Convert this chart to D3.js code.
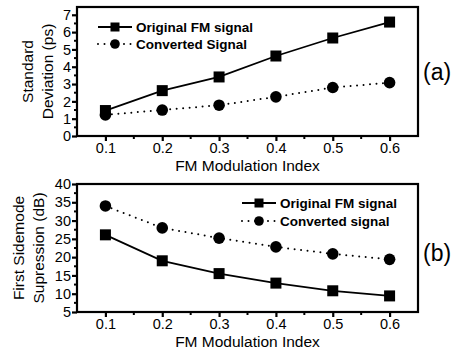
<!DOCTYPE html>
<meta charset="utf-8">
<title>FM modulation</title>
<style>
body { margin: 0; background: #fff; }
svg { font-family: "Liberation Sans", Arial, sans-serif; }
.axis path, .axis line { stroke: #000; stroke-width: 2.2; fill: none; }
.axis text { font-size: 14.5px; fill: #000; }
.frame { fill: none; stroke: #000; stroke-width: 2.2; }
.legend text { font-size: 13.5px; font-weight: bold; }
.title { font-size: 15.5px; }
.ytitle { font-size: 15.5px; }
.panel-label { font-size: 23px; }
</style>
<body>
<script src="https://d3js.org/d3.v7.min.js"></script>
<script>

var index = [0.1, 0.2, 0.3, 0.4, 0.5, 0.6];
var stdOriginal = [1.47, 2.62, 3.41, 4.62, 5.66, 6.58];
var stdConverted = [1.22, 1.5, 1.78, 2.26, 2.8, 3.08];
var supOriginal = [26.1, 19.0, 15.5, 12.9, 10.8, 9.4];
var supConverted = [34.0, 28.0, 25.2, 22.8, 20.9, 19.4];
var stdTicks = [0, 1, 2, 3, 4, 5, 6, 7];
var supTicks = [5, 10, 15, 20, 25, 30, 35, 40];
var xTicks = [0.1, 0.2, 0.3, 0.4, 0.5, 0.6];

var W = 464, H = 350;
var left = 77, right = 418;

var svg = d3.select("body").append("svg")
    .attr("width", W)
    .attr("height", H);

var x = d3.scaleLinear().domain([0.05, 0.65]).range([left, right]);

function panel(opts) {
  var y = d3.scaleLinear().domain(opts.yDomain).range([opts.bottom, opts.top]);
  var g = svg.append("g");

  g.append("rect")
      .attr("class", "frame")
      .attr("x", left)
      .attr("y", opts.top)
      .attr("width", right - left)
      .attr("height", opts.bottom - opts.top);

  // minor ticks
  var minorX = d3.range(0.15, 0.65, 0.1);
  g.selectAll(".mx").data(minorX).enter().append("line")
      .attr("x1", function(d) { return x(d); })
      .attr("x2", function(d) { return x(d); })
      .attr("y1", opts.bottom)
      .attr("y2", opts.bottom + 3)
      .attr("stroke", "#000").attr("stroke-width", 2);
  var minorY = opts.yTicks.slice(0, -1).map(function(d, i) { return (d + opts.yTicks[i + 1]) / 2; });
  g.selectAll(".my").data(minorY).enter().append("line")
      .attr("y1", function(d) { return y(d); })
      .attr("y2", function(d) { return y(d); })
      .attr("x1", left)
      .attr("x2", left - 3)
      .attr("stroke", "#000").attr("stroke-width", 2);

  g.append("g")
      .attr("class", "axis")
      .attr("transform", "translate(0," + opts.bottom + ")")
      .call(d3.axisBottom(x).tickValues(xTicks).tickSize(5).tickPadding(2).tickSizeOuter(0)
        .tickFormat(d3.format(".1f")));

  g.append("g")
      .attr("class", "axis")
      .attr("transform", "translate(" + left + ",0)")
      .call(d3.axisLeft(y).tickValues(opts.yTicks).tickSize(5).tickPadding(1).tickSizeOuter(0));

  g.selectAll(".axis .domain").remove();

  var line = d3.line()
      .x(function(d, i) { return x(index[i]); })
      .y(function(d) { return y(d); });

  g.append("path")
      .datum(opts.original)
      .attr("d", line)
      .attr("fill", "none")
      .attr("stroke", "#000")
      .attr("stroke-width", 1.8);

  g.append("path")
      .datum(opts.converted)
      .attr("d", line)
      .attr("fill", "none")
      .attr("stroke", "#000")
      .attr("stroke-width", 2)
      .attr("stroke-linecap", "round")
      .attr("stroke-dasharray", "0,6.5");

  g.selectAll(".sq").data(opts.original).enter().append("rect")
      .attr("x", function(d, i) { return x(index[i]) - 5.5; })
      .attr("y", function(d) { return y(d) - 5.5; })
      .attr("width", 11)
      .attr("height", 11)
      .attr("fill", "#000");

  g.selectAll(".ci").data(opts.converted).enter().append("circle")
      .attr("cx", function(d, i) { return x(index[i]); })
      .attr("cy", function(d) { return y(d); })
      .attr("r", 5.8)
      .attr("fill", "#000");

  // legend
  var lg = g.append("g").attr("class", "legend");
  var lx = opts.legendX, ly = opts.legendY;
  lg.append("line")
      .attr("x1", lx).attr("x2", lx + 34)
      .attr("y1", ly).attr("y2", ly)
      .attr("stroke", "#000").attr("stroke-width", 1.8);
  lg.append("rect")
      .attr("x", lx + 17 - 4.5).attr("y", ly - 4.5)
      .attr("width", 9).attr("height", 9).attr("fill", "#000");
  lg.append("text")
      .attr("x", lx + 38).attr("y", ly).attr("dy", "0.36em")
      .text(opts.names[0]);
  lg.append("line")
      .attr("x1", lx).attr("x2", lx + 34)
      .attr("y1", ly + opts.legendGap).attr("y2", ly + opts.legendGap)
      .attr("stroke", "#000").attr("stroke-width", 2)
      .attr("stroke-linecap", "round")
      .attr("stroke-dasharray", "0,6.5");
  lg.append("circle")
      .attr("cx", lx + 17).attr("cy", ly + opts.legendGap)
      .attr("r", 4.8).attr("fill", "#000");
  lg.append("text")
      .attr("x", lx + 38).attr("y", ly + opts.legendGap).attr("dy", "0.36em")
      .text(opts.names[1]);

  // titles
  g.append("text")
      .attr("class", "title")
      .attr("x", (left + right) / 2)
      .attr("y", opts.bottom + 35)
      .attr("text-anchor", "middle")
      .text("FM Modulation Index");

  var cy = (opts.top + opts.bottom) / 2;
  opts.yTitle.forEach(function(t, i) {
    g.append("text")
        .attr("class", "ytitle")
        .attr("transform", "translate(" + (opts.yTitleX + i * 20) + "," + cy + ") rotate(-90)")
        .attr("text-anchor", "middle")
        .text(t);
  });

  g.append("text")
      .attr("class", "panel-label")
      .attr("x", 423)
      .attr("y", opts.labelY)
      .text(opts.label);
}

panel({
  top: 7, bottom: 136,
  yDomain: [0, 7.45],
  yTicks: stdTicks,
  original: stdOriginal,
  converted: stdConverted,
  names: ["Original FM signal", "Converted Signal"],
  legendX: 98, legendY: 27, legendGap: 17,
  yTitle: ["Standard", "Deviation (ps)"],
  yTitleX: 33,
  label: "(a)", labelY: 80
});

panel({
  top: 184, bottom: 312,
  yDomain: [5, 40],
  yTicks: supTicks,
  original: supOriginal,
  converted: supConverted,
  names: ["Original FM signal", "Converted signal"],
  legendX: 242, legendY: 203, legendGap: 18,
  yTitle: ["First Sidemode", "Supression (dB)"],
  yTitleX: 24,
  label: "(b)", labelY: 261
});

</script>
</body>
